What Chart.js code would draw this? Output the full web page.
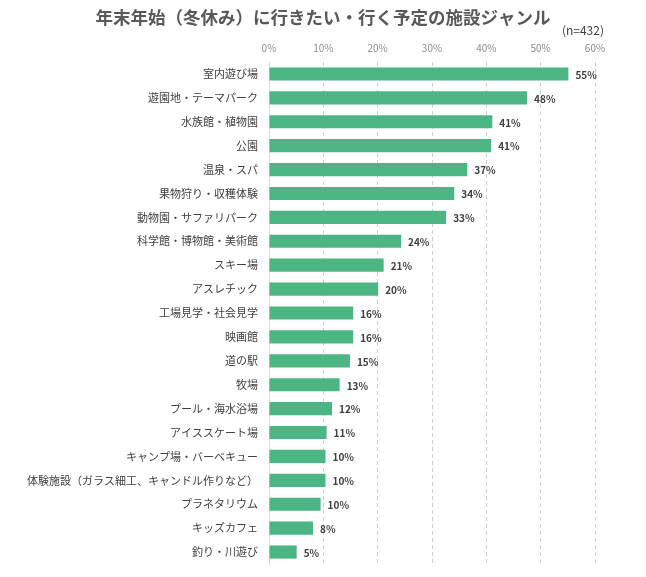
<!DOCTYPE html>
<html>
<head>
<meta charset="utf-8">
<script src="https://cdn.jsdelivr.net/npm/chart.js@4/dist/chart.umd.min.js"></script>
<style>
html,body{margin:0;padding:0;background:#fff;}
canvas{display:block;}
</style>
</head>
<body>
<canvas id="c" width="646" height="577"></canvas>
<script>
const categories = [
  "室内遊び場","遊園地・テーマパーク","水族館・植物園","公園","温泉・スパ",
  "果物狩り・収穫体験","動物園・サファリパーク","科学館・博物館・美術館","スキー場","アスレチック",
  "工場見学・社会見学","映画館","道の駅","牧場","プール・海水浴場",
  "アイススケート場","キャンプ場・バーベキュー","体験施設（ガラス細工、キャンドル作りなど）","プラネタリウム","キッズカフェ",
  "釣り・川遊び"
];
const values = [55.1,47.5,41.1,40.9,36.5,34.1,32.6,24.3,21.1,20.1,15.5,15.5,14.9,13.0,11.6,10.6,10.4,10.4,9.5,8.1,5.1];
const valueLabels = ["55%","48%","41%","41%","37%","34%","33%","24%","21%","20%","16%","16%","15%","13%","12%","11%","10%","10%","10%","8%","5%"];
const xTicks = [0,10,20,30,40,50,60];
const titleText = '年末年始（冬休み）に行きたい・行く予定の施設ジャンル';
const noteText = '(n=432)';

const FONT = "'Noto Sans CJK JP','Noto Sans',sans-serif";

const labelPlugin = {
  id: 'valLabels',
  afterDatasetsDraw(chart) {
    const ctx = chart.ctx;
    const meta = chart.getDatasetMeta(0);
    ctx.save();
    ctx.font = "bold 10px " + FONT;
    ctx.fillStyle = "#404040";
    ctx.textAlign = "left";
    ctx.textBaseline = "middle";
    meta.data.forEach((bar, i) => {
      ctx.fillText(valueLabels[i], bar.x + 7, bar.y + 1);
    });
    ctx.restore();
  }
};

const headerPlugin = {
  id: 'header',
  afterDraw(chart) {
    const ctx = chart.ctx;
    ctx.save();
    ctx.font = "bold 17.5px " + FONT;
    ctx.fillStyle = "#595959";
    ctx.textAlign = "center";
    ctx.textBaseline = "middle";
    ctx.fillText(titleText, chart.width / 2, 17);
    ctx.font = "12px " + FONT;
    ctx.fillStyle = "#404040";
    ctx.textAlign = "right";
    ctx.fillText(noteText, 604, 30);
    ctx.restore();
  }
};

new Chart(document.getElementById('c'), {
  type: 'bar',
  data: {
    labels: categories,
    datasets: [{
      data: values,
      backgroundColor: '#4cb584',
      borderWidth: 0,
      categoryPercentage: 1,
      barPercentage: 0.55
    }]
  },
  options: {
    indexAxis: 'y',
    responsive: false,
    animation: false,
    layout: { padding: { left: 0, right: 51, top: 42, bottom: 13 } },
    plugins: {
      legend: { display: false },
      tooltip: { enabled: false },
      title: { display: false }
    },
    scales: {
      x: {
        position: 'top',
        min: 0,
        max: 60,
        afterBuildTicks(axis) { axis.ticks = xTicks.map(v => ({ value: v })); },
        afterFit(axis) { axis.height = 20; },
        ticks: {
          callback: v => v + '%',
          color: '#8c8c8c',
          font: { family: FONT, size: 10 },
          padding: 8
        },
        grid: {
          color: '#cfcfcf',
          drawTicks: false
        },
        border: { display: false, dash: [4, 3] }
      },
      y: {
        afterFit(axis) { axis.width = 269; axis.paddingTop = 0; axis.paddingBottom = 0; },
        ticks: {
          color: '#404040',
          font: { family: FONT, size: 11 },
          padding: 11,
          autoSkip: false
        },
        grid: { display: false, drawTicks: false },
        border: { display: true, color: '#d9d9d9' }
      }
    }
  },
  plugins: [labelPlugin, headerPlugin]
});
</script>
</body>
</html>
